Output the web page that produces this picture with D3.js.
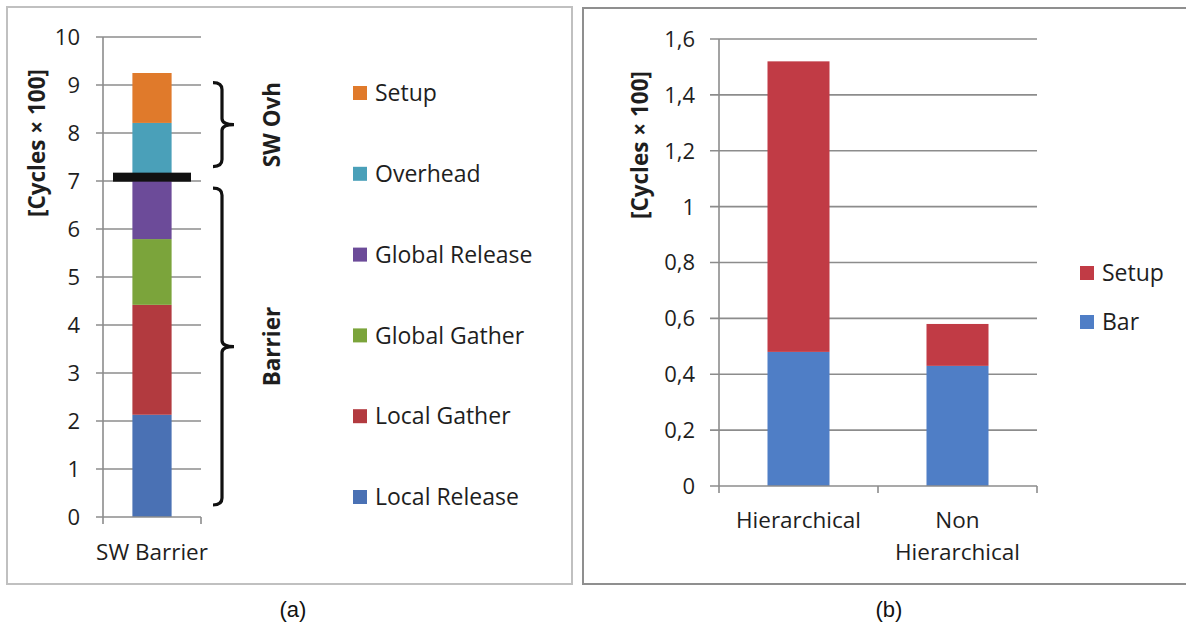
<!DOCTYPE html>
<html>
<head>
<meta charset="utf-8">
<script src="https://cdn.jsdelivr.net/npm/d3@7"></script>
<style>
  html, body { margin: 0; padding: 0; background: #fff; }
  svg { display: block; }
  text { font-family: "Open Sans", Lato, sans-serif; fill: #1e1e1e; }
</style>
</head>
<body>
<svg id="fig" width="1186" height="628"></svg>
<script>
// ---- Panel (a): SW barrier breakdown ----
const categoriesA = ["SW Barrier"];
const segmentsA = ["Local Release", "Local Gather", "Global Gather", "Global Release", "Overhead", "Setup"];
const valuesA = [2.13, 2.29, 1.37, 1.21, 1.21, 1.04];
const colorsA = ["#4a71b4", "#b23a3f", "#7ba43b", "#6c4b99", "#4aa0b9", "#e07a2b"];
const ticksA = [0, 1, 2, 3, 4, 5, 6, 7, 8, 9, 10];
const separatorA = 7.08;
const bracesA = [
  { label: "SW Ovh", from: 7.3, to: 9.05 },
  { label: "Barrier", from: 0.25, to: 6.85 }
];

// ---- Panel (b): hierarchical vs non hierarchical ----
const categoriesB = ["Hierarchical", "Non Hierarchical"];
const seriesB = ["Bar", "Setup"];
const barB = [0.48, 0.43];
const setupB = [1.04, 0.15];
const colorsB = ["#4f7ec6", "#c13b45"];
const ticksB = [0, 0.2, 0.4, 0.6, 0.8, 1, 1.2, 1.4, 1.6];

const svg = d3.select("#fig");
const gridColor = "#8c8c8c";
const tickFont = 22, labelFont = 22.5, titleFont = 22.5, legendFont = 23;

// panel frames
svg.append("rect").attr("x", 7).attr("y", 7).attr("width", 565).attr("height", 577)
  .attr("fill", "none").attr("stroke", "#c0c0c0").attr("stroke-width", 2);
svg.append("rect").attr("x", 583).attr("y", 8).attr("width", 640).attr("height", 576)
  .attr("fill", "none").attr("stroke", "#8f8f8f").attr("stroke-width", 2);

// ================= Panel (a) =================
{
  const y = d3.scaleLinear().domain([0, 10]).range([517, 37]);
  const x = d3.scaleBand().domain(categoriesA).range([103, 201]).paddingInner(0.6).paddingOuter(0.3);
  const g = svg.append("g");

  // gridlines with left ticks
  g.append("g").selectAll("line").data(ticksA.filter(t => t > 0)).join("line")
    .attr("x1", 96).attr("x2", 201).attr("y1", d => y(d)).attr("y2", d => y(d))
    .attr("stroke", gridColor).attr("stroke-width", 1.6);

  // stacked bar
  const stackRows = categoriesA.map(() => {
    const r = {};
    segmentsA.forEach((s, i) => r[s] = valuesA[i]);
    return r;
  });
  const stacked = d3.stack().keys(segmentsA)(stackRows);
  g.append("g").selectAll("rect").data(stacked).join("rect")
    .attr("x", x(categoriesA[0])).attr("width", x.bandwidth())
    .attr("y", d => y(d[0][1])).attr("height", d => y(d[0][0]) - y(d[0][1]))
    .attr("fill", (d, i) => colorsA[i]);

  // axes
  g.append("line").attr("x1", 103).attr("x2", 103).attr("y1", y(10)).attr("y2", y(0))
    .attr("stroke", gridColor).attr("stroke-width", 1.6);
  g.append("line").attr("x1", 96).attr("x2", 201).attr("y1", y(0)).attr("y2", y(0))
    .attr("stroke", gridColor).attr("stroke-width", 1.6);
  [103, 201].forEach(px => g.append("line").attr("x1", px).attr("x2", px)
    .attr("y1", y(0)).attr("y2", y(0) + 7).attr("stroke", gridColor).attr("stroke-width", 1.6));

  // separator between barrier and overhead parts
  g.append("rect").attr("x", 113).attr("width", 78)
    .attr("y", y(separatorA) - 4.5).attr("height", 9).attr("fill", "#111");

  // tick labels
  g.append("g").selectAll("text").data(ticksA).join("text")
    .attr("x", 80).attr("y", d => y(d)).attr("dy", "0.36em")
    .attr("text-anchor", "end").attr("font-size", tickFont).text(d => d);

  // category label
  g.append("text").attr("x", 152).attr("y", 560)
    .attr("text-anchor", "middle").attr("font-size", labelFont).text(categoriesA[0]);

  // axis title
  g.append("text").attr("transform", "translate(45,143) rotate(-90)")
    .attr("text-anchor", "middle").attr("font-size", titleFont).attr("font-weight", "bold")
    .text("[Cycles × 100]");

  // braces
  const bx = 222;
  bracesA.forEach(b => {
    const top = y(b.to), bot = y(b.from), mid = (top + bot) / 2;
    const p = d3.path();
    p.moveTo(bx - 9, top);
    p.quadraticCurveTo(bx, top, bx, top + 7);
    p.lineTo(bx, mid - 6);
    p.quadraticCurveTo(bx, mid, bx + 12, mid);
    p.quadraticCurveTo(bx, mid, bx, mid + 6);
    p.lineTo(bx, bot - 7);
    p.quadraticCurveTo(bx, bot, bx - 9, bot);
    g.append("path").attr("d", p.toString()).attr("fill", "none")
      .attr("stroke", "#111").attr("stroke-width", 3.2);
    g.append("text").attr("transform", `translate(280,${mid}) rotate(-90)`)
      .attr("text-anchor", "middle").attr("font-size", titleFont).attr("font-weight", "bold")
      .text(b.label);
  });

  // legend (top = last series)
  const legendOrder = segmentsA.map((s, i) => i).reverse();
  const lg = g.append("g").selectAll("g").data(legendOrder).join("g")
    .attr("transform", (d, k) => `translate(353,${93 + k * 80.8})`);
  lg.append("rect").attr("x", 0).attr("y", -7).attr("width", 14).attr("height", 14)
    .attr("fill", d => colorsA[d]);
  lg.append("text").attr("x", 22).attr("y", 0).attr("dy", "0.36em")
    .attr("font-size", legendFont).text(d => segmentsA[d]);
}

// ================= Panel (b) =================
{
  const y = d3.scaleLinear().domain([0, 1.6]).range([486, 39]);
  const x = d3.scaleBand().domain(categoriesB).range([719, 1037]).paddingInner(0.61).paddingOuter(0.305);
  const g = svg.append("g");
  const fmt = d3.formatLocale({ decimal: ",", thousands: ".", grouping: [3], currency: ["", ""] }).format(".1~f");

  g.append("g").selectAll("line").data(ticksB.filter(t => t > 0)).join("line")
    .attr("x1", 710).attr("x2", 1037).attr("y1", d => y(d)).attr("y2", d => y(d))
    .attr("stroke", gridColor).attr("stroke-width", 1.6);

  const rows = categoriesB.map((c, i) => ({ cat: c, Bar: barB[i], Setup: setupB[i] }));
  const stacked = d3.stack().keys(seriesB)(rows);
  g.append("g").selectAll("g").data(stacked).join("g")
    .attr("fill", (d, i) => colorsB[i])
    .selectAll("rect").data(d => d).join("rect")
    .attr("x", d => x(d.data.cat)).attr("width", x.bandwidth())
    .attr("y", d => y(d[1])).attr("height", d => y(d[0]) - y(d[1]));

  g.append("line").attr("x1", 719).attr("x2", 719).attr("y1", y(1.6)).attr("y2", y(0))
    .attr("stroke", gridColor).attr("stroke-width", 1.6);
  g.append("line").attr("x1", 710).attr("x2", 1037).attr("y1", y(0)).attr("y2", y(0))
    .attr("stroke", gridColor).attr("stroke-width", 1.6);
  [719, 719 + x.step(), 1037].forEach(px => g.append("line").attr("x1", px).attr("x2", px)
    .attr("y1", y(0)).attr("y2", y(0) + 7).attr("stroke", gridColor).attr("stroke-width", 1.6));

  g.append("g").selectAll("text").data(ticksB).join("text")
    .attr("x", 695).attr("y", d => y(d)).attr("dy", "0.36em")
    .attr("text-anchor", "end").attr("font-size", tickFont).text(d => fmt(d));

  // category labels (wrapped on spaces when needed)
  const catLines = [["Hierarchical"], ["Non", "Hierarchical"]];
  categoriesB.forEach((c, i) => {
    const t = g.append("text").attr("text-anchor", "middle").attr("font-size", labelFont);
    catLines[i].forEach((ln, k) => t.append("tspan")
      .attr("x", x(c) + x.bandwidth() / 2).attr("y", 528 + k * 32).text(ln));
  });

  g.append("text").attr("transform", "translate(648,145) rotate(-90)")
    .attr("text-anchor", "middle").attr("font-size", titleFont).attr("font-weight", "bold")
    .text("[Cycles × 100]");

  const legendOrder = [1, 0];
  const lg = g.append("g").selectAll("g").data(legendOrder).join("g")
    .attr("transform", (d, k) => `translate(1080,${273 + k * 49})`);
  lg.append("rect").attr("x", 0).attr("y", -7).attr("width", 14).attr("height", 14)
    .attr("fill", d => colorsB[d]);
  lg.append("text").attr("x", 22).attr("y", 0).attr("dy", "0.36em")
    .attr("font-size", legendFont).text(d => seriesB[d]);
}

// sub-figure captions
svg.append("text").attr("x", 293).attr("y", 617).attr("text-anchor", "middle")
  .style("font-family", "'Liberation Sans', Arial, sans-serif").style("fill", "#111")
  .attr("font-size", 22).text("(a)");
svg.append("text").attr("x", 889).attr("y", 617).attr("text-anchor", "middle")
  .style("font-family", "'Liberation Sans', Arial, sans-serif").style("fill", "#111")
  .attr("font-size", 22).text("(b)");
</script>
</body>
</html>
